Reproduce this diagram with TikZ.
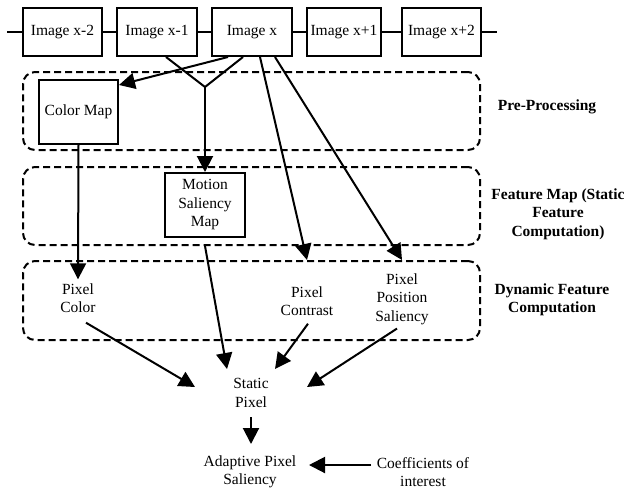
\documentclass[tikz,border=0pt]{standalone}
\usepackage{fontspec}
\setmainfont{Liberation Serif}
\usetikzlibrary{arrows.meta}

\begin{document}
\begin{tikzpicture}[x=1pt,y=-1pt,line width=2pt,
  font=\fontsize{15.5}{18.5}\selectfont,
  imgbox/.style={draw,minimum height=48pt,inner sep=0pt},
  mapbox/.style={draw,minimum width=80pt,minimum height=64pt,inner sep=0pt,align=center},
  stage/.style={draw,dash pattern=on 7pt off 4pt,rounded corners=12pt,minimum width=457pt,inner sep=0pt},
  txt/.style={align=center,inner sep=3pt},
  stagelabel/.style={align=center,font=\fontsize{15.5}{18.5}\selectfont\bfseries},
  arr/.style={-{Triangle[length=16pt,width=16pt]}}]
\useasboundingbox (0,0) rectangle (628,491);
% frames of the video
\node[imgbox,minimum width=79pt] (imm2) at (62.5,32) {Image x-2};
\node[imgbox,minimum width=80pt] (imm1) at (157,32) {Image x-1};
\node[imgbox,minimum width=80pt] (imx) at (252,32) {Image x};
\node[imgbox,minimum width=74pt] (imp1) at (344,32) {Image x+1};
\node[imgbox,minimum width=79pt] (imp2) at (441.5,32) {Image x+2};
\coordinate (lend) at (7,32);
\coordinate (rend) at (497,32);
\draw (lend) -- (imm2);
\draw (imm2) -- (imm1);
\draw (imm1) -- (imx);
\draw (imx) -- (imp1);
\draw (imp1) -- (imp2);
\draw (imp2) -- (rend);
% stages
\node[stage,minimum height=78pt] (pre) at (251.5,111) {};
\node[stage,minimum height=78pt] (feat) at (251.5,206) {};
\node[stage,minimum height=79pt] (dyn) at (251.5,300.5) {};
\node[stagelabel] (prel) at (547,107) {Pre-Processing};
\node[stagelabel] (featl) at (558,214) {Feature Map (Static\\Feature\\Computation)};
\node[stagelabel] (dynl) at (552,300) {Dynamic Feature\\Computation};
% maps
\node[mapbox,minimum width=79pt] (cmap) at (78.5,112) {Color Map};
\node[mapbox] (mot) at (205,205) {Motion\\Saliency\\Map};
% features
\node[txt] (pcol) at (78,298) {Pixel\\Color};
\node[txt] (pcon) at (307,301) {Pixel\\Contrast};
\node[txt] (ppos) at (402,299) {Pixel\\Position\\Saliency};
\node[txt,minimum width=110pt,minimum height=46pt] (spx) at (251,393) {Static\\Pixel};
\node[txt,minimum width=116pt,minimum height=54pt] (apx) at (250,472) {Adaptive Pixel\\Saliency};
\node[txt,minimum width=102pt] (coef) at (423,472) {Coefficients of\\interest};
\coordinate (jn) at (205,87);
% connectors
\draw[arr] ([xshift=-24pt]imx.south) -- ([yshift=-6pt]cmap.north east);
\draw ([xshift=9pt]imm1.south) -- (jn);
\draw ([xshift=-9pt]imx.south) -- (jn);
\draw[arr] (jn) -- (mot.north);
\draw[arr] ([xshift=8pt]imx.south) -- (pcon.north |- dyn.north);
\draw[arr] ([xshift=23pt]imx.south) -- (ppos.north |- dyn.north);
\draw[arr] (cmap.south) -- (pcol.north);
\draw[arr] (mot.south |- feat.south) -- ([xshift=-24pt]spx.north);
\draw[arr] ([xshift=8pt,yshift=-6pt]pcol.south) -- ([yshift=6pt]spx.west);
\draw[arr] ([xshift=1pt,yshift=-4pt]pcon.south) -- ([xshift=24pt]spx.north);
\draw[arr] ([xshift=-5pt]ppos.south) -- ([yshift=6pt]spx.east);
\draw[arr] (spx.south) -- (spx.south |- apx.north);
\draw[arr] ([yshift=7pt]coef.west) -- ([yshift=7pt]apx.east);
\end{tikzpicture}
\end{document}
